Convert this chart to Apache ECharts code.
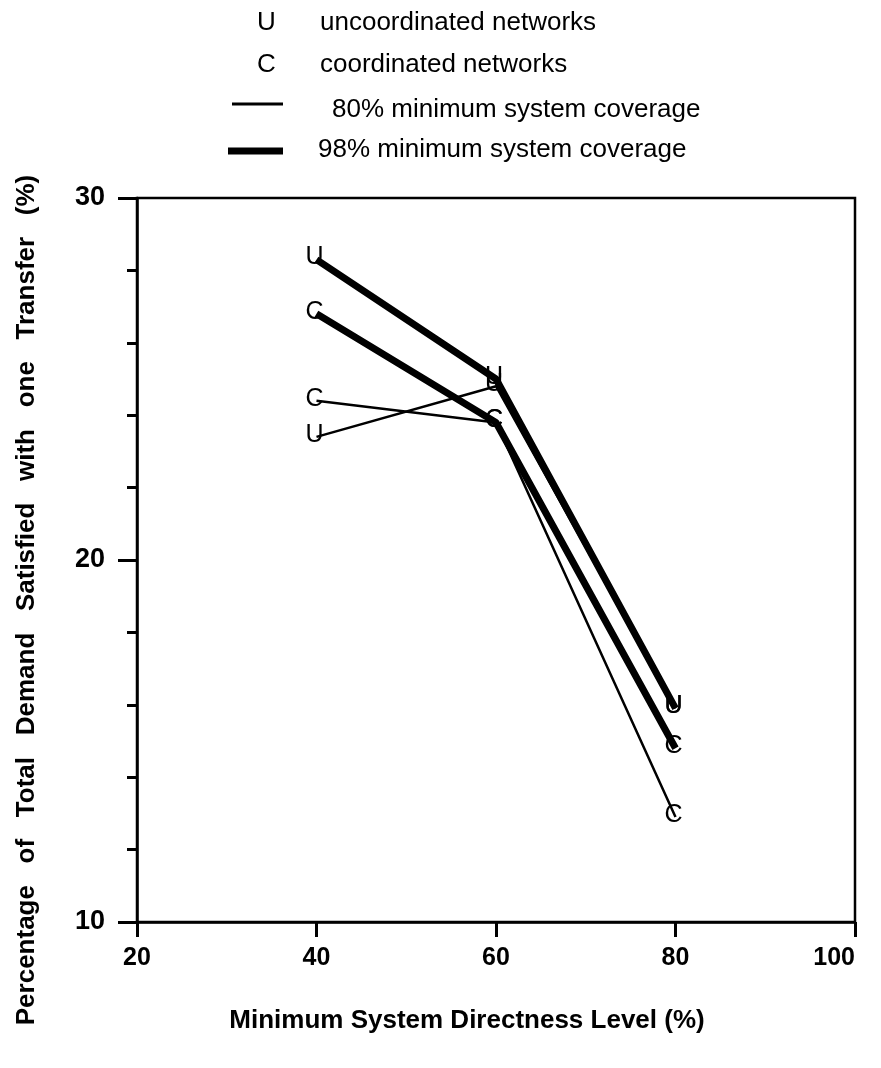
<!DOCTYPE html>
<html><head><meta charset="utf-8">
<script src="https://cdn.jsdelivr.net/npm/echarts@6/dist/echarts.min.js"></script>
<style>html,body{margin:0;padding:0;background:#fff}#c{width:881px;height:1068px}</style>
</head><body><div id="c"></div>
<script>
const xValues = [40, 60, 80];
const u98 = [28.3, 25.0, 15.9];
const c98 = [26.8, 23.8, 14.8];
const c80 = [24.4, 23.8, 12.9];
const u80 = [23.4, 24.8, 15.9];
const xTicks = [20, 40, 60, 80, 100];
const yLabels = [10, 20, 30];

const FONT = '"Liberation Sans", Arial, sans-serif';
function pts(vals){ return xValues.map((x,i)=>[x, vals[i]]); }
function mk(name, vals, letter, width){
  return {
    name, type:'line', data: pts(vals), z: width>4?3:2,
    lineStyle:{color:'#000', width},
    symbol:'circle', symbolSize:0.1, showSymbol:true,
    itemStyle:{color:'#000'},
    label:{show:true, position:'inside', formatter: letter, color:'#000',
      fontFamily: FONT, fontSize:25, offset:[-2,-2]},
    animation:false
  };
}
const chart = echarts.init(document.getElementById('c'));
chart.setOption({
  backgroundColor:'#fff',
  animation:false,
  grid:{left:137, right:26, top:198, bottom:146, show:true, borderColor:'#000', borderWidth:2.5},
  xAxis:{type:'value', min:20, max:100, interval:20,
    axisLine:{lineStyle:{color:'#000', width:2.5}},
    axisTick:{show:true, length:15, lineStyle:{color:'#000', width:3}},
    splitLine:{show:false},
    axisLabel:{color:'#000', fontFamily:FONT, fontWeight:'bold', fontSize:25, margin:24,
      alignMaxLabel:'right',
      formatter:v=> xTicks.includes(v)? String(v):''}},
  yAxis:{type:'value', min:10, max:30, interval:10,
    axisLine:{lineStyle:{color:'#000', width:2.5}},
    axisTick:{show:true, length:19, lineStyle:{color:'#000', width:3}},
    minorTick:{show:true, splitNumber:5, length:10, lineStyle:{color:'#000', width:3}},
    splitLine:{show:false},
    axisLabel:{color:'#000', fontFamily:FONT, fontWeight:'bold', fontSize:27, margin:32,
      formatter:v=> yLabels.includes(v)? String(v):''}},
  series:[
    mk('U 80%', u80, 'U', 2.5),
    mk('C 80%', c80, 'C', 2.5),
    mk('U 98%', u98, 'U', 7),
    mk('C 98%', c98, 'C', 7)
  ],
  graphic:[
    {type:'text', x:257, y:23, style:{text:'U', font:'26px '+FONT, fill:'#000', verticalAlign:'middle'}},
    {type:'text', x:320, y:23, style:{text:'uncoordinated networks', font:'26px '+FONT, fill:'#000', verticalAlign:'middle'}},
    {type:'text', x:257, y:65, style:{text:'C', font:'26px '+FONT, fill:'#000', verticalAlign:'middle'}},
    {type:'text', x:320, y:65, style:{text:'coordinated networks', font:'26px '+FONT, fill:'#000', verticalAlign:'middle'}},
    {type:'line', shape:{x1:232, y1:104, x2:283, y2:104}, style:{stroke:'#000', lineWidth:3}},
    {type:'text', x:332, y:110, style:{text:'80% minimum system coverage', font:'26px '+FONT, fill:'#000', verticalAlign:'middle'}},
    {type:'line', shape:{x1:228, y1:151, x2:283, y2:151}, style:{stroke:'#000', lineWidth:7}},
    {type:'text', x:318, y:150, style:{text:'98% minimum system coverage', font:'26px '+FONT, fill:'#000', verticalAlign:'middle'}},
    {type:'text', x:467, y:1021, style:{text:'Minimum System Directness Level (%)', font:'bold 26px '+FONT, fill:'#000', align:'center', verticalAlign:'middle'}},
    {type:'text', x:27, y:600, rotation:Math.PI/2, style:{text:'Percentage   of   Total   Demand   Satisfied   with   one   Transfer   (%)', font:'bold 26px '+FONT, fill:'#000', align:'center', verticalAlign:'middle'}}
  ]
});
</script></body></html>
